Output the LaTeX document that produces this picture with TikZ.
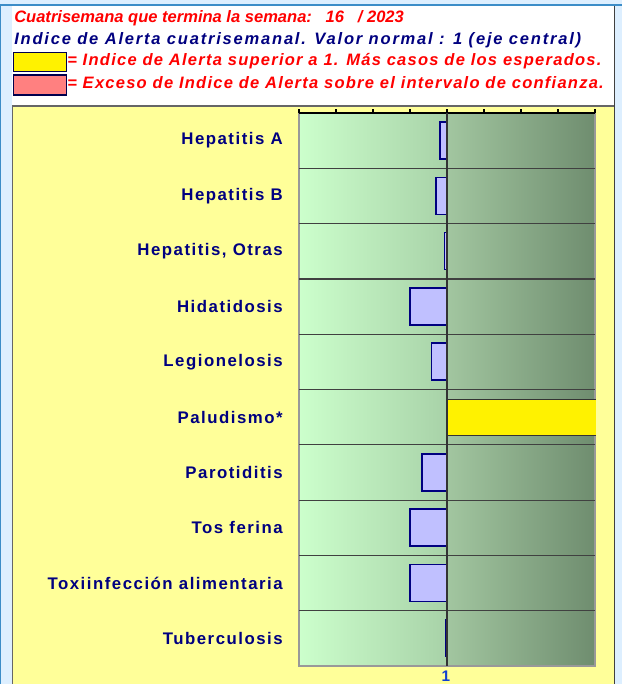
\documentclass[tikz,border=0pt]{standalone}
\usepackage{fontspec}
\setmainfont{Liberation Sans}
\usetikzlibrary{positioning}

\definecolor{titlered}{HTML}{FF0000}
\definecolor{navytext}{HTML}{000080}
\definecolor{chartyellow}{HTML}{FFFF99}
\definecolor{winblue}{HTML}{DDEFFF}
\definecolor{winedge}{HTML}{3C8DC8}
\definecolor{mintlight}{HTML}{CCFFCC}
\definecolor{mintmid}{HTML}{A8D2A8}
\definecolor{sagemid}{HTML}{A2C6A0}
\definecolor{sagedark}{HTML}{6F8D6F}
\definecolor{barblue}{HTML}{C0C0FF}
\definecolor{legendpink}{HTML}{FF8080}
\definecolor{tickblue}{HTML}{1040D0}

\begin{document}
\begin{tikzpicture}[x=0.75pt,y=-0.75pt]
  % Styles
  \tikzset{
    headline/.style={anchor=base west, inner sep=0pt, font=\fontsize{12.4}{14}\selectfont\bfseries\itshape},
    wideline/.style={headline, font=\fontsize{12.4}{14}\selectfont\bfseries\itshape\addfontfeature{LetterSpace=#1}},
    disease/.style={anchor=east, inner sep=0pt, text=navytext, font=\fontsize{12.6}{14}\selectfont\bfseries\addfontfeature{LetterSpace=9}},
    keybox/.style={draw=navytext!60!black, line width=0.8pt},
    lowbar/.style={fill=barblue, draw=navytext, line width=1.1pt},
    gridline/.style={draw=black!75, line width=0.9pt},
  }
  \useasboundingbox (0,0) rectangle (622,684);
  % Window
  \fill[winblue] (0,0) rectangle (622,684);
  \fill[white] (12,6) rectangle (615,684);
  \draw[winedge, line width=1.2pt] (0,5) -- (622,5);
  \draw[winedge, line width=1pt] (0.6,5) -- (0.6,684);
  \draw[black!75, line width=1pt] (614.5,6) -- (614.5,684);
  % Header
  \node (period) [headline, text=titlered] at (14,23) {Cuatrisemana que termina la semana:\ \ \ 16\ \ \ / 2023};
  \node (normal) [wideline=10.8, text=navytext] at (14,44.5) {Indice de Alerta cuatrisemanal. Valor normal : 1 (eje central)};
  \node (keyyellow) [keybox, fill=yellow, minimum width=53*0.75pt, minimum height=19*0.75pt, inner sep=0pt, anchor=north west] at (13,52) {};
  \node (keypink) [keybox, fill=legendpink, minimum width=53*0.75pt, minimum height=20*0.75pt, inner sep=0pt, anchor=north west] at (13,74.5) {};
  \node (keyyellowtext) [wideline=7.5, text=titlered] at (67,66) {= Indice de Alerta superior a 1. Más casos de los esperados.};
  \node (keypinktext) [wideline=7.5, text=titlered] at (67,88.5) {= Exceso de Indice de Alerta sobre el intervalo de confianza.};
  % Chart frame
  \fill[chartyellow] (13,106) rectangle (614,684);
  \draw[black!60, line width=1pt] (12.5,684) -- (12.5,106) -- (614,106);
  % Plot area
  \shade[left color=mintlight, right color=mintmid] (299,113) rectangle (447,666);
  \shade[left color=sagemid, right color=sagedark] (447,113) rectangle (595,666);
  \draw[black!40, line width=0.8pt] (299,113) rectangle (595,666);
  \foreach \k in {1,...,9}
    \draw[gridline] (299,{113+55.3*\k}) -- (595,{113+55.3*\k});
  % Axis
  \draw[black, line width=0.8pt] (299,113) -- (595,113);
  \foreach \k in {0,...,8}
    \draw[black, line width=0.8pt] ({299+37*\k},113) -- ({299+37*\k},109);
  % Rows
  \foreach \name/\left [count=\i from 0] in {Hepatitis A/440, Hepatitis B/436, {Hepatitis, Otras}/444.5, Hidatidosis/410, Legionelosis/431.5, Paludismo*/447, Parotiditis/422, Tos ferina/410, Toxiinfección alimentaria/410, Tuberculosis/446}{
    \node (row\i) [disease] at (283,{113+55.3*\i+27.65}) {\name};
    \ifdim\left pt<447pt
      \draw[lowbar] (\left,{113+55.3*\i+9}) rectangle (447,{113+55.3*\i+46});
    \fi
  }
  \fill[yellow] (447,399.5) rectangle (596,435.5);
  \draw[black!80, line width=0.8pt] (447,399.5) -- (596,399.5) (447,435.5) -- (596,435.5);
  % Central axis
  \draw[black!80, line width=1.1pt] (447,113) -- (447,666);
  \node (axisone) [text=tickblue, font=\fontsize{11.5}{13}\selectfont\bfseries] at (446,676) {1};
\end{tikzpicture}
\end{document}
